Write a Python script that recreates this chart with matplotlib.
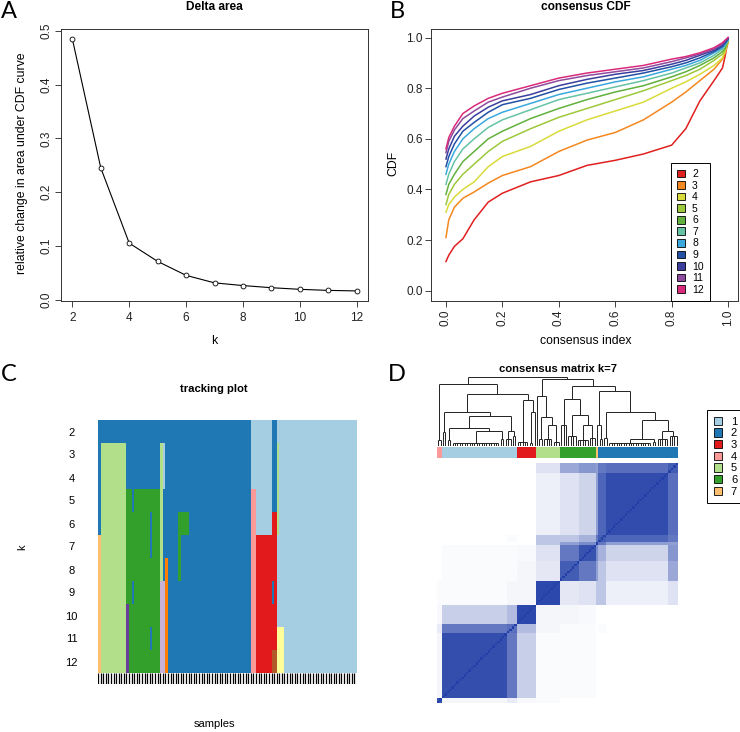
import numpy as np
import matplotlib
matplotlib.use('Agg')
import matplotlib.pyplot as plt
from matplotlib.colors import ListedColormap, LinearSegmentedColormap
from matplotlib.patches import Patch

plt.rcParams['font.family'] = ['Liberation Sans', 'DejaVu Sans']

W, H = 740, 732

# ---------------- data ----------------
k_vals = [2, 3, 4, 5, 6, 7, 8, 9, 10, 11, 12]
delta_area = [0.485, 0.245, 0.105, 0.071, 0.045, 0.031, 0.026, 0.022, 0.019, 0.017, 0.016]

cdf_index = [0.0, 0.01, 0.03, 0.06, 0.1, 0.15, 0.2, 0.3, 0.4, 0.5, 0.6, 0.7, 0.8, 0.85, 0.9, 0.95, 0.98, 0.99, 1.0]
cdf_k2 = [0.115, 0.14, 0.175, 0.205, 0.28, 0.35, 0.385, 0.43, 0.455, 0.495, 0.515, 0.54, 0.575, 0.64, 0.75, 0.83, 0.88, 0.93, 1.0]
cdf_k3 = [0.21, 0.28, 0.33, 0.365, 0.39, 0.425, 0.455, 0.49, 0.55, 0.595, 0.625, 0.675, 0.745, 0.785, 0.83, 0.875, 0.915, 0.94, 0.98]
cdf_k4 = [0.31, 0.34, 0.37, 0.40, 0.43, 0.49, 0.53, 0.57, 0.63, 0.675, 0.71, 0.745, 0.80, 0.825, 0.855, 0.89, 0.92, 0.95, 0.985]
cdf_k5 = [0.34, 0.38, 0.42, 0.46, 0.50, 0.55, 0.59, 0.64, 0.685, 0.72, 0.755, 0.79, 0.83, 0.85, 0.875, 0.91, 0.935, 0.955, 0.985]
cdf_k6 = [0.38, 0.42, 0.46, 0.51, 0.55, 0.60, 0.63, 0.68, 0.72, 0.755, 0.785, 0.81, 0.845, 0.865, 0.89, 0.92, 0.945, 0.96, 0.99]
cdf_k7 = [0.42, 0.46, 0.51, 0.56, 0.60, 0.645, 0.675, 0.715, 0.755, 0.78, 0.805, 0.83, 0.86, 0.88, 0.90, 0.93, 0.955, 0.97, 0.99]
cdf_k8 = [0.46, 0.50, 0.55, 0.60, 0.64, 0.68, 0.705, 0.74, 0.775, 0.80, 0.825, 0.845, 0.875, 0.89, 0.91, 0.94, 0.96, 0.975, 0.99]
cdf_k9 = [0.49, 0.53, 0.58, 0.63, 0.665, 0.705, 0.735, 0.76, 0.795, 0.82, 0.84, 0.86, 0.885, 0.90, 0.92, 0.945, 0.965, 0.98, 0.995]
cdf_k10 = [0.52, 0.56, 0.61, 0.65, 0.69, 0.725, 0.75, 0.775, 0.81, 0.835, 0.855, 0.87, 0.895, 0.91, 0.93, 0.95, 0.97, 0.985, 0.995]
cdf_k11 = [0.545, 0.59, 0.635, 0.68, 0.71, 0.745, 0.765, 0.80, 0.83, 0.85, 0.865, 0.88, 0.905, 0.92, 0.935, 0.955, 0.975, 0.99, 1.0]
cdf_k12 = [0.56, 0.605, 0.65, 0.70, 0.73, 0.76, 0.78, 0.81, 0.84, 0.86, 0.875, 0.89, 0.915, 0.925, 0.94, 0.96, 0.98, 0.99, 1.0]
cdf_curves = [cdf_k2, cdf_k3, cdf_k4, cdf_k5, cdf_k6, cdf_k7, cdf_k8, cdf_k9, cdf_k10, cdf_k11, cdf_k12]
cdf_colors = ['#E0201F', '#F5871F', '#D9DB3A', '#9CC83A', '#62B03E', '#66C2A5',
              '#3AA8DD', '#2150A5', '#3B3E9C', '#8E4B9E', '#DA2A7C']

# tracking plot: cluster colour runs (code, n samples) for each k
pal = {'lb': '#A6CEE3', 'bl': '#1F78B4', 'lg': '#B2DF8A', 'gr': '#33A02C',
       'pk': '#FB9A99', 'rd': '#E31A1C', 'or': '#FDBF6F', 'do': '#FF7F00',
       'lv': '#CAB2D6', 'pu': '#6A3D9A', 'ye': '#FFFF99', 'br': '#B15928'}
track_k2 = [('bl', 59), ('lb', 8), ('bl', 2), ('lb', 31)]
track_k3 = [('bl', 1), ('lg', 10), ('bl', 13), ('lg', 1), ('lb', 1), ('bl', 33), ('lb', 8), ('bl', 2), ('lg', 1), ('lb', 30)]
track_k4 = [('bl', 1), ('lg', 10), ('bl', 13), ('lg', 1), ('lb', 1), ('bl', 33), ('lb', 8), ('bl', 2), ('lg', 1), ('lb', 30)]
track_k5 = [('bl', 1), ('lg', 10), ('gr', 2), ('bl', 1), ('gr', 10), ('lg', 1), ('bl', 34), ('pk', 2), ('lb', 6), ('bl', 2), ('lg', 1), ('lb', 30)]
track_k6 = [('bl', 1), ('lg', 10), ('gr', 9), ('bl', 1), ('gr', 3), ('lg', 1), ('bl', 6), ('gr', 4), ('bl', 24), ('pk', 2), ('lb', 6), ('rd', 2), ('lg', 1), ('lb', 30)]
track_k7 = [('or', 1), ('lg', 10), ('gr', 9), ('bl', 1), ('gr', 3), ('lg', 1), ('bl', 6), ('gr', 1), ('bl', 27), ('pk', 2), ('rd', 8), ('lb', 31)]
track_k8 = [('or', 1), ('lg', 10), ('gr', 13), ('lg', 1), ('bl', 1), ('do', 1), ('bl', 4), ('gr', 1), ('bl', 27), ('pk', 2), ('rd', 8), ('lb', 31)]
track_k9 = [('or', 1), ('lg', 10), ('gr', 2), ('bl', 1), ('gr', 10), ('lv', 2), ('do', 1), ('bl', 32), ('pk', 2), ('rd', 6), ('bl', 1), ('rd', 1), ('lb', 31)]
track_k10 = [('or', 1), ('lg', 10), ('pu', 1), ('gr', 12), ('lv', 2), ('do', 1), ('bl', 32), ('pk', 2), ('rd', 8), ('lb', 31)]
track_k11 = [('or', 1), ('lg', 10), ('pu', 1), ('gr', 8), ('bl', 1), ('gr', 3), ('lv', 2), ('do', 1), ('bl', 32), ('pk', 2), ('rd', 8), ('ye', 3), ('lb', 28)]
track_k12 = [('or', 1), ('lg', 10), ('pu', 1), ('gr', 12), ('lv', 2), ('do', 1), ('bl', 32), ('pk', 2), ('rd', 6), ('br', 2), ('ye', 3), ('lb', 28)]
track_rows = [track_k2, track_k3, track_k4, track_k5, track_k6, track_k7,
              track_k8, track_k9, track_k10, track_k11, track_k12]

# consensus matrix k=7: cluster order along the dendrogram
cons_clusters = [('pk', 2), ('lb', 31), ('rd', 8), ('lg', 10), ('gr', 15), ('or', 1), ('bl', 33)]
# sub-groups (sizes) and their mean consensus values
sub_sizes = [2, 27, 4, 8, 10, 8, 7, 1, 3, 26, 4]
sub_cons = [
    [0.90, 0.05, 0.10, 0.03, 0.02, 0.00, 0.00, 0.00, 0.00, 0.00, 0.00],
    [0.05, 0.92, 0.70, 0.25, 0.02, 0.02, 0.02, 0.00, 0.00, 0.00, 0.00],
    [0.10, 0.70, 0.75, 0.35, 0.05, 0.02, 0.02, 0.00, 0.02, 0.00, 0.00],
    [0.03, 0.25, 0.35, 0.95, 0.05, 0.05, 0.03, 0.00, 0.00, 0.00, 0.00],
    [0.02, 0.02, 0.05, 0.05, 0.95, 0.12, 0.15, 0.30, 0.30, 0.08, 0.15],
    [0.00, 0.02, 0.02, 0.05, 0.12, 0.85, 0.70, 0.50, 0.30, 0.15, 0.45],
    [0.00, 0.02, 0.02, 0.03, 0.15, 0.70, 0.90, 0.60, 0.40, 0.22, 0.55],
    [0.00, 0.00, 0.00, 0.00, 0.30, 0.50, 0.60, 0.90, 0.70, 0.50, 0.50],
    [0.00, 0.00, 0.02, 0.00, 0.30, 0.30, 0.40, 0.70, 0.85, 0.80, 0.70],
    [0.00, 0.00, 0.00, 0.00, 0.08, 0.15, 0.22, 0.50, 0.80, 0.93, 0.75],
    [0.00, 0.00, 0.00, 0.00, 0.15, 0.45, 0.55, 0.50, 0.70, 0.75, 0.85],
]
# dendrogram: [height, left, right]; tuple = (n leaves, comb height)
tree = [1.0,
        [0.90, (2, 0.09),
         [0.76,
          [0.50, (2, 0.20),
           [0.44,
            [0.26, (2, 0.08), [0.22, (20, 0.05), (2, 0.10)]],
            [0.22, (3, 0.10), (2, 0.15)]]],
          [0.66, (5, 0.06), [0.50, (2, 0.04), (1, 0.0)]]]],
        [0.97,
         [0.72, (1, 0.0), [0.42, (2, 0.10), [0.30, (4, 0.10), (3, 0.06)]]],
         [0.87,
          [0.68, (3, 0.30), [0.45, (4, 0.15), [0.30, (5, 0.08), (3, 0.12)]]],
          [0.80,
           [0.30, (1, 0.0), (2, 0.10)],
           [0.50, (2, 0.12),
            [0.38, [0.10, (18, 0.04), (2, 0.06)], [0.22, (5, 0.10), (4, 0.15)]]]]]]]
legend_labels = ['1', '2', '3', '4', '5', '6', '7']
legend_codes = ['lb', 'bl', 'rd', 'pk', 'lg', 'gr', 'or']


def box(l, t, r, b):
    return [l / W, 1 - b / H, (r - l) / W, (b - t) / H]


def ftext(px, py, s, **kw):
    fig.text(px / W, 1 - py / H, s, ha='center', va='center', **kw)


def style_ax(ax):
    for sp in ax.spines.values():
        sp.set_linewidth(0.7)
        sp.set_color('#333333')
    ax.tick_params(direction='out', length=4, width=0.6, labelsize=8.5, pad=2, colors='#222222')


fig = plt.figure(figsize=(7.4, 7.32), dpi=100)

# ---------------- A: delta area ----------------
axA = fig.add_axes(box(61, 29, 368, 301))
axA.plot(k_vals, delta_area, color='black', lw=0.8, marker='o', ms=3.5,
         mfc='white', mec='black', mew=0.6)
r = max(delta_area) - min(delta_area)
axA.set_ylim(min(delta_area) - 0.04 * r, max(delta_area) + 0.04 * r)
axA.set_xlim(1.6, 12.4)
axA.set_xticks([2, 4, 6, 8, 10, 12])
axA.set_yticks([0.0, 0.1, 0.2, 0.3, 0.4, 0.5])
axA.set_yticklabels(['0.0', '0.1', '0.2', '0.3', '0.4', '0.5'], rotation=90, va='center')
style_ax(axA)
axA.tick_params(axis='x', pad=4)

# ---------------- B: consensus CDF ----------------
axB = fig.add_axes(box(431, 29, 738, 301))
for k, ys, c in zip(k_vals, cdf_curves, cdf_colors):
    axB.plot(cdf_index, ys, color=c, lw=1.1, label=str(k))
axB.set_xlim(-0.053, 1.035)
axB.set_ylim(-0.041, 1.034)
axB.set_xticks([0.0, 0.2, 0.4, 0.6, 0.8, 1.0])
axB.set_xticklabels(['0.0', '0.2', '0.4', '0.6', '0.8', '1.0'], rotation=90)
axB.set_yticks([0.0, 0.2, 0.4, 0.6, 0.8, 1.0])
axB.set_yticklabels(['0.0', '0.2', '0.4', '0.6', '0.8', '1.0'])
style_ax(axB)
hB = [Patch(facecolor=c, edgecolor='black', lw=0.6) for c in cdf_colors]
legB = axB.legend(hB, [str(k) for k in k_vals], loc='lower right', bbox_to_anchor=(0.909, 0.0),
                  borderaxespad=0, fontsize=7.5, handlelength=0.75, handleheight=0.75,
                  handletextpad=0.7, labelspacing=0.15, borderpad=0.6, fancybox=False, framealpha=1)
legB.get_frame().set_edgecolor('black')
legB.get_frame().set_linewidth(0.7)

# ---------------- C: tracking plot ----------------
codes = list(pal.keys())
track_mat = np.array([np.repeat([codes.index(c) for c, n in row], [n for c, n in row])
                      for row in track_rows])
n_samp = track_mat.shape[1]
axC = fig.add_axes(box(98, 420, 357, 673))
axC.imshow(track_mat, aspect='auto', interpolation='nearest',
           cmap=ListedColormap([pal[c] for c in codes]), vmin=-0.5, vmax=len(codes) - 0.5,
           extent=[0, n_samp, len(k_vals), 0])
axC.set_yticks(np.arange(len(k_vals)) + 0.5)
axC.set_yticklabels([str(k) for k in k_vals], ha='center')
axC.set_xticks([])
axC.tick_params(length=0, labelsize=8, pad=19)
for sp in axC.spines.values():
    sp.set_visible(False)
axS = fig.add_axes(box(98, 673, 357, 684))
axS.vlines(np.arange(n_samp), 0, 1, color='black', lw=0.9)
axS.set_xlim(0, n_samp)
axS.set_ylim(0, 1)
axS.axis('off')

# ---------------- D: consensus matrix ----------------
sub_mat = np.array(sub_cons)
cons = np.repeat(np.repeat(sub_mat, sub_sizes, axis=0), sub_sizes, axis=1)
np.fill_diagonal(cons, 1.0)
n_cons = cons.shape[0]
blues = LinearSegmentedColormap.from_list('wb', ['#FFFFFF', '#2340A8'])
axH = fig.add_axes(box(437, 463, 678, 703))
axH.imshow(cons, origin='lower', aspect='auto', cmap=blues, vmin=0, vmax=1,
           interpolation='nearest', extent=[0, n_cons, 0, n_cons])
axH.axis('off')

bar_codes = np.repeat([codes.index(c) for c, n in cons_clusters], [n for c, n in cons_clusters])
axCB = fig.add_axes(box(437, 447, 678, 458))
axCB.imshow(bar_codes[None, :], aspect='auto', interpolation='nearest',
            cmap=ListedColormap([pal[c] for c in codes]), vmin=-0.5, vmax=len(codes) - 0.5,
            extent=[0, n_cons, 0, 1])
axCB.axis('off')

axD = fig.add_axes(box(437, 377, 678, 446))


def draw_tree(ax, node, start):
    if isinstance(node, tuple):
        n, h = node
        xs = start + np.arange(n) + 0.5
        if n > 1:
            ax.vlines(xs, 0, h, color='#222222', lw=0.7)
            ax.hlines(h, xs[0], xs[-1], color='#222222', lw=0.7)
        return xs.mean(), h, n
    h, left, right = node
    xl, hl, nl = draw_tree(ax, left, start)
    xr, hr, nr = draw_tree(ax, right, start + nl)
    ax.vlines([xl, xr], [hl, hr], h, color='#222222', lw=0.7)
    ax.hlines(h, xl, xr, color='#222222', lw=0.7)
    return (xl + xr) / 2, h, nl + nr


draw_tree(axD, tree, 0)
axD.set_xlim(0, n_cons)
axD.set_ylim(0, 1.0)
axD.axis('off')

hD = [Patch(facecolor=pal[c], edgecolor='black', lw=0.6) for c in legend_codes]
legD = fig.legend(hD, legend_labels, loc='upper left', bbox_to_anchor=(707 / W, 1 - 410 / H),
                  borderaxespad=0, fontsize=8, handlelength=0.75, handleheight=0.75,
                  handletextpad=0.8, labelspacing=0.15, borderpad=0.6, fancybox=False, framealpha=1)
legD.get_frame().set_edgecolor('black')
legD.get_frame().set_linewidth(0.7)

# ---------------- texts ----------------
ftext(214, 7, 'Delta area', fontsize=8.6, fontweight='bold')
ftext(586, 7, 'consensus CDF', fontsize=8.6, fontweight='bold')
ftext(22, 163, 'relative change in area under CDF curve', fontsize=8.8, rotation=90)
ftext(393, 163, 'CDF', fontsize=8.8, rotation=90)
ftext(214, 341, 'k', fontsize=8.8)
ftext(586, 341, 'consensus index', fontsize=8.8)
ftext(214, 389, 'tracking plot', fontsize=8.1, fontweight='bold')
ftext(22, 547, 'k', fontsize=8, rotation=90)
ftext(214, 724, 'samples', fontsize=8)
ftext(558, 369, 'consensus matrix k=7', fontsize=8.1, fontweight='bold')
for lab, px, py in [('A', 9, 12), ('B', 397, 11), ('C', 9, 375), ('D', 397, 375)]:
    ftext(px, py, lab, fontsize=17, family=['Lato', 'DejaVu Sans'])

fig.savefig('out.png', dpi=100)
